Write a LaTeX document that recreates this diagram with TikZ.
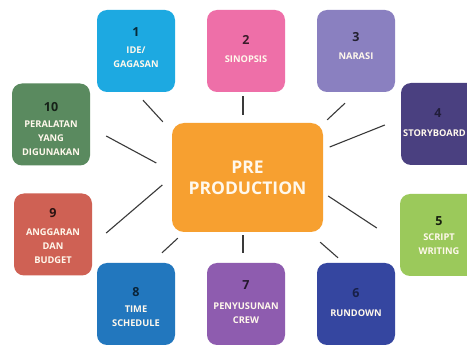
\documentclass[tikz,border=0pt]{standalone}
\usepackage{fontspec}
\setmainfont{Open Sans}
\usetikzlibrary{calc}
\definecolor{cA}{HTML}{1DA9E1}
\definecolor{cB}{HTML}{EE6FA8}
\definecolor{cC}{HTML}{8A80C0}
\definecolor{cD}{HTML}{4A4080}
\definecolor{cE}{HTML}{9BC95B}
\definecolor{cF}{HTML}{3546A0}
\definecolor{cG}{HTML}{8E5CAF}
\definecolor{cH}{HTML}{2277BE}
\definecolor{cI}{HTML}{CF6154}
\definecolor{cJ}{HTML}{5A8A5F}
\definecolor{cCenter}{HTML}{F7A030}
\definecolor{txt}{HTML}{FFF8EC}
\definecolor{linec}{HTML}{3A3A3A}
\tikzset{
  box/.style={rounded corners=10pt, minimum width=78pt, minimum height=82pt, inner sep=0pt, draw=none},
  num/.style={font=\bfseries\fontsize{12.5}{12.5}\selectfont, inner sep=0pt},
  lab/.style={font=\bfseries\fontsize{9.3}{14}\selectfont, text=txt, align=center, inner sep=0pt},
  conn/.style={draw=linec, line width=1.1pt},
}
\begin{document}
\begin{tikzpicture}[x=1pt,y=-1pt]
\useasboundingbox (0,0) rectangle (467,345);
\fill[white] (0,0) rectangle (467,345);
% center
\node[box, fill=cCenter, minimum width=151pt, minimum height=109pt, rounded corners=12pt] (c) at (247.5,177.5) {};
\node[font=\bfseries\fontsize{17.5}{21}\selectfont, text=txt, align=center, inner sep=0pt] (ct) at (247.5,178) {PRE\\PRODUCTION};
% 1
\node[box, fill=cA] (b1) at (136,51) {};
\node[num, text=cA!25!black] (n1) at (136,32) {1};
\node[lab] (l1) at (136,57.5) {IDE/\\GAGASAN};
% 2
\node[box, fill=cB] (b2) at (246,51) {};
\node[num, text=cB!25!black] (n2) at (246,40) {2};
\node[lab] (l2) at (246,59) {SINOPSIS};
% 3
\node[box, fill=cC] (b3) at (356,51) {};
\node[num, text=cC!25!black] (n3) at (356,37) {3};
\node[lab] (l3) at (356,56) {NARASI};
% 4
\node[box, fill=cD] (b4) at (440,124) {};
\node[num, text=cD!45!black] (n4) at (438,113) {4};
\node[lab] (l4) at (434.5,133) {STORYBOARD};
% 5
\node[box, fill=cE] (b5) at (439,235) {};
\node[num, text=cE!15!black] (n5) at (439,221) {5};
\node[lab] (l5) at (439,244) {SCRIPT\\WRITING};
% 6
\node[box, fill=cF] (b6) at (356,304) {};
\node[num, text=cF!45!black] (n6) at (356,293) {6};
\node[lab] (l6) at (356,313) {RUNDOWN};
% 7
\node[box, fill=cG] (b7) at (246,304) {};
\node[num, text=cG!25!black] (n7) at (246,285) {7};
\node[lab] (l7) at (246,313) {PENYUSUNAN\\CREW};
% 8
\node[box, fill=cH] (b8) at (136,304) {};
\node[num, text=cH!30!black] (n8) at (136,292) {8};
\node[lab] (l8) at (136,316.5) {TIME\\SCHEDULE};
% 9
\node[box, fill=cI] (b9) at (53,234.5) {};
\node[num, text=cI!20!black] (n9) at (53,213) {9};
\node[lab] (l9) at (53,246) {ANGGARAN\\DAN\\BUDGET};
% 10
\node[box, fill=cJ] (b10) at (51,124.5) {};
\node[num, text=cJ!25!black] (n10) at (51,107) {10};
\node[lab] (l10) at (51,138.5) {PERALATAN\\YANG\\DIGUNAKAN};
% connectors
\draw[conn] ($(b1.south)+(7,8)$) -- ($(c.north west)+(-9,-1)$);
\draw[conn] ($(b2.south)+(-3,4)$) -- ($(c.north)+(-4.5,-8)$);
\draw[conn] ($(b3.south)+(-11,11)$) -- ($(c.north east)+(4,-3)$);
\draw[conn] ($(c.east)+(6.5,-30.5)$) -- ($(b4.west)+(-16,1)$);
\draw[conn] ($(b10.east)+(16,11.5)$) -- ($(c.west)+(-15.5,-14.5)$);
\draw[conn] ($(b9.east)+(14,-1.5)$) -- ($(c.west)+(-9.5,7.5)$);
\draw[conn] ($(c.east)+(5,18.5)$) -- ($(b5.west)+(-23,-7)$);
\draw[conn] ($(b8.north)+(26,-10)$) -- ($(c.south west)+(6,6)$);
\draw[conn] ($(c.south)+(-4.5,3)$) -- ($(b7.north)+(-3,-10)$);
\draw[conn] ($(c.south east)+(-3,10)$) -- ($(b6.north)+(-18,-5)$);
\end{tikzpicture}
\end{document}
